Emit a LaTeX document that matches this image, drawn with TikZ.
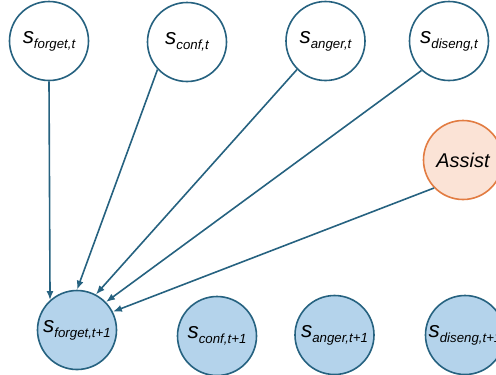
\documentclass[tikz,border=0pt]{standalone}
\usepackage{fontspec}
\setmainfont{Liberation Sans}
\usetikzlibrary{arrows.meta}
\definecolor{edgeblue}{RGB}{38,98,128}
\definecolor{fillblue}{RGB}{180,211,235}
\definecolor{assistfill}{RGB}{251,227,214}
\definecolor{assistedge}{RGB}{226,124,66}
\newcommand{\lbl}[1]{{\fontsize{22.5}{23}\selectfont\itshape s}{\fontsize{13.3}{14}\selectfont\itshape\raisebox{-5bp}{#1}}}
\tikzset{
  state/.style={circle, draw=edgeblue, line width=1.6bp, minimum size=79bp, inner sep=0pt, fill=white},
  nextstate/.style={state, fill=fillblue},
  assistnode/.style={circle, draw=assistedge, line width=1.6bp, minimum size=79bp, inner sep=0pt, fill=assistfill},
  conn/.style={draw=edgeblue, line width=1.6bp, -{Latex[length=9bp,width=7bp]}}
}
\begin{document}
\begin{tikzpicture}[x=1bp,y=-1bp]
\useasboundingbox (0,0) rectangle (496,374);
\node[state] (t1) at (49,41) {\lbl{forget,t}};
\node[state] (t2) at (187,42) {\lbl{conf,t}};
\node[state] (t3) at (325.5,41) {\lbl{anger,t}};
\node[state] (t4) at (449,41) {\lbl{diseng,t}};
\node[assistnode] (as) at (463,160) {\fontsize{20}{20}\selectfont\itshape Assist};
\node[nextstate] (b1) at (77,330) {\lbl{forget,t+1}};
\node[nextstate] (b2) at (217,336) {\lbl{conf,t+1}};
\node[nextstate] (b3) at (334.5,335) {\lbl{anger,t+1}};
\node[nextstate] (b4) at (465,335) {\lbl{diseng,t+1}};
\draw[conn] (t1.270) -- (b1.132);
\draw[conn] (t2.223) -- (b1.90);
\draw[conn] (t3.225) -- (b1.62);
\draw[conn] (t4.227) -- (b1.44);
\draw[conn] (as.224) -- (b1.27);
\end{tikzpicture}
\end{document}
